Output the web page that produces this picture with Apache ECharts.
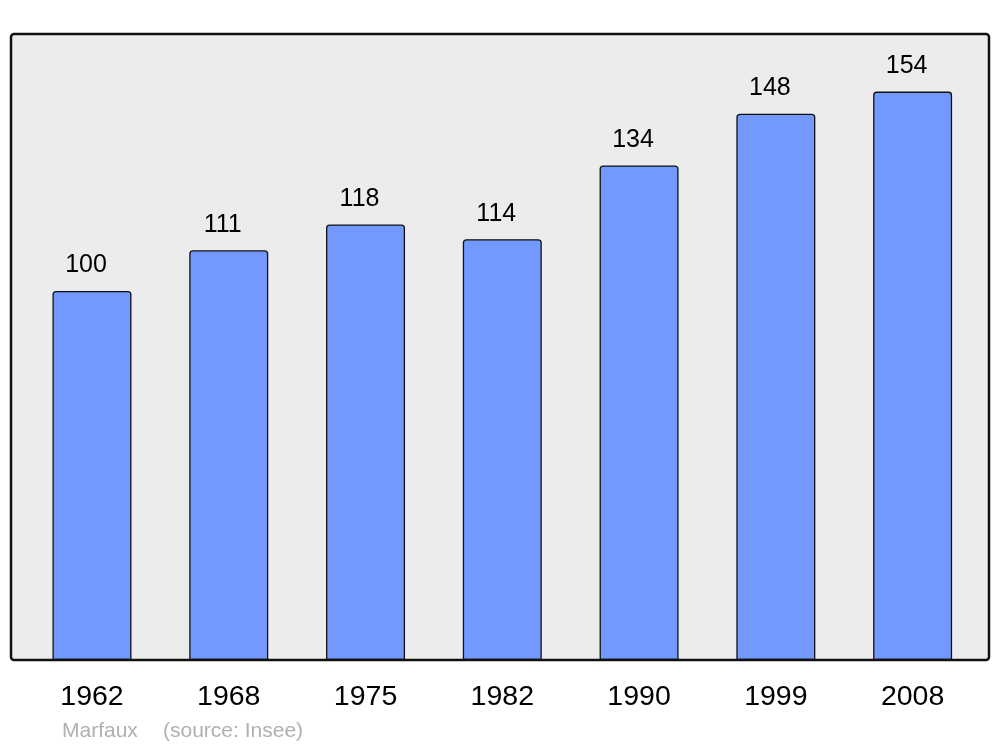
<!DOCTYPE html>
<html>
<head>
<meta charset="utf-8">
<script src="https://cdn.jsdelivr.net/npm/echarts@6/dist/echarts.min.js"></script>
<style>
html,body{margin:0;padding:0;background:#fff;}
#chart{width:1000px;height:747px;}
</style>
</head>
<body>
<div id="chart"></div>
<script>
var years = ['1962', '1968', '1975', '1982', '1990', '1999', '2008'];
var population = [100, 111, 118, 114, 134, 148, 154];
var placeName = 'Marfaux';
var sourceText = '(source: Insee)';

var chart = echarts.init(document.getElementById('chart'), null, {renderer: 'canvas'});
var FONT = '"Liberation Sans", Arial, sans-serif';
chart.setOption({
  animation: false,
  backgroundColor: '#ffffff',
  title: [
    {text: placeName, left: 62, top: 721, padding: 0, textStyle: {fontFamily: FONT, fontSize: 21, fontWeight: 'normal', color: '#b0b0b0'}},
    {text: sourceText, left: 163, top: 721, padding: 0, textStyle: {fontFamily: FONT, fontSize: 21, fontWeight: 'normal', color: '#b0b0b0'}}
  ],
  graphic: [
    {type: 'rect', z: -10, shape: {x: 11, y: 34, width: 978, height: 626, r: 3}, style: {fill: '#ececec', stroke: null}},
    {type: 'rect', z: 100, shape: {x: 11, y: 34, width: 978, height: 626, r: 3}, style: {fill: null, stroke: '#111111', lineWidth: 2.5}}
  ],
  grid: {left: 23.6, right: 19, top: 34, bottom: 87},
  xAxis: {
    type: 'category',
    data: years,
    axisLine: {show: false},
    axisTick: {show: false},
    axisLabel: {fontFamily: FONT, fontSize: 28.5, color: '#000', margin: 23}
  },
  yAxis: {
    type: 'value', min: 0, max: 169.6,
    show: false,
    splitLine: {show: false}
  },
  series: [{
    type: 'bar',
    data: population,
    barWidth: 79,
    itemStyle: {color: '#7399ff', borderColor: '#111111', borderWidth: 1.3, borderRadius: [3, 3, 0, 0]},
    label: {show: true, position: 'top', distance: 13, offset: [-6, 0], fontFamily: FONT, fontSize: 25, color: '#000'}
  }]
});
</script>
</body>
</html>
